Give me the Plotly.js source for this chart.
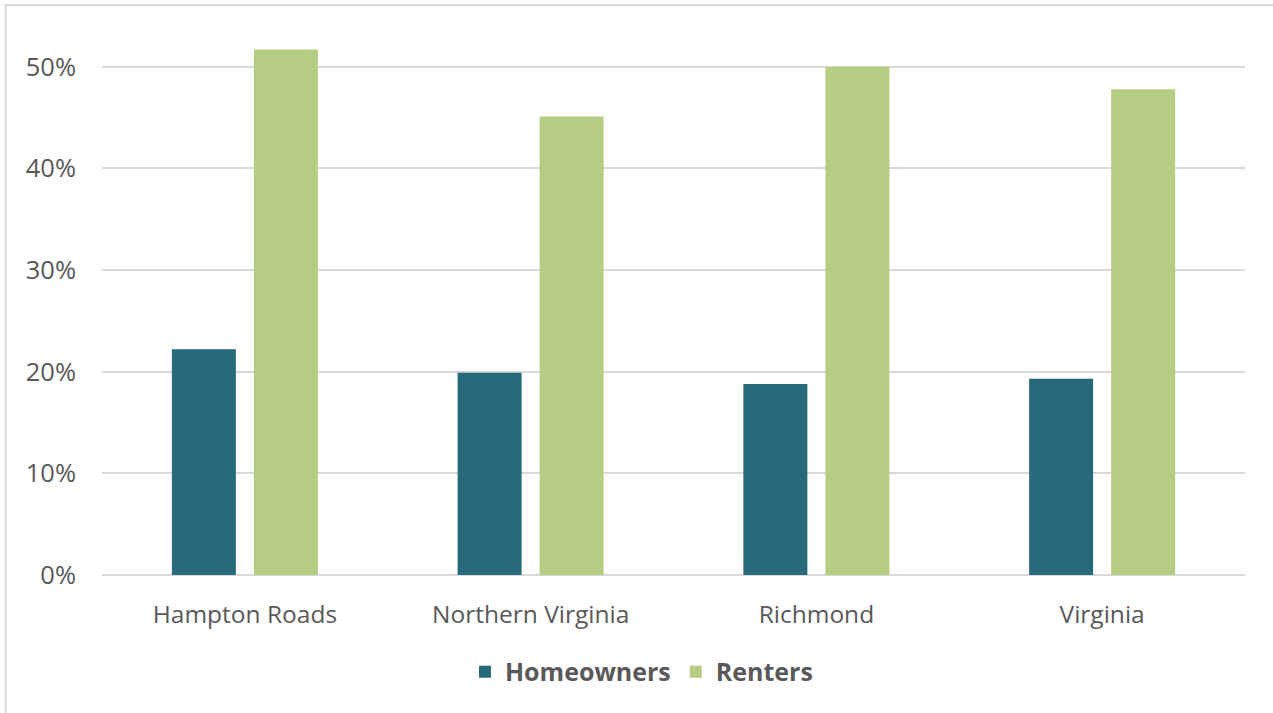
<!DOCTYPE html>
<html><head><meta charset="utf-8">
<script src="https://cdn.plot.ly/plotly-3.0.1.min.js"></script>
<style>html,body{margin:0;padding:0;background:#fff;}#chart{width:1273px;height:713px;}</style>
</head><body><div id="chart"></div>
<script>
const categories = ["Hampton Roads", "Northern Virginia", "Richmond", "Virginia"];
const homeowners = [0.222, 0.199, 0.188, 0.193];
const renters = [0.517, 0.451, 0.500, 0.478];
const yTicks = [0, 0.1, 0.2, 0.3, 0.4, 0.5];
const yTickLabels = ["0%", "10%", "20%", "30%", "40%", "50%"];

const font = "'Open Sans', 'Noto Sans', sans-serif";
const traces = [
  {type: "bar", name: "Homeowners", x: categories, y: homeowners, marker: {color: "#266A7B"}},
  {type: "bar", name: "Renters", x: categories, y: renters, marker: {color: "#B5CD82"}}
];
const layout = {
  width: 1273, height: 713,
  margin: {l: 102, r: 28, t: 16, b: 138},
  paper_bgcolor: "#fff", plot_bgcolor: "#fff",
  barmode: "group", bargap: 0.426, bargroupgap: 0.2195,
  font: {family: font, color: "#595959", size: 24},
  xaxis: {showgrid: false, showline: false, zeroline: false, ticks: "", ticklabelstandoff: 22,
          tickfont: {size: 24.5, color: "#595959"}},
  yaxis: {range: [0, 0.55], tickvals: yTicks, ticktext: yTickLabels, showgrid: true, gridcolor: "#d9d9d9", gridwidth: 2,
          zeroline: true, zerolinecolor: "#d9d9d9", zerolinewidth: 2, showline: false, ticks: "", ticklen: 0,
          ticklabelstandoff: 25, tickfont: {size: 25.5, color: "#595959"}},
  showlegend: true,
  legend: {orientation: "h", x: 0.472, xanchor: "center", y: -0.1735, yanchor: "middle",
           font: {size: 25, color: "#595959", weight: "bold"}, itemwidth: 30, traceorder: "normal"},
  shapes: [{type: "rect", xref: "paper", yref: "paper", x0: -0.0842, x1: 1.1, y0: -0.4, y1: 1.0195,
            line: {color: "#d9d9d9", width: 2}, fillcolor: "rgba(0,0,0,0)", layer: "below"}]
};
Plotly.newPlot("chart", traces, layout, {displayModeBar: false, staticPlot: true});
</script></body></html>
